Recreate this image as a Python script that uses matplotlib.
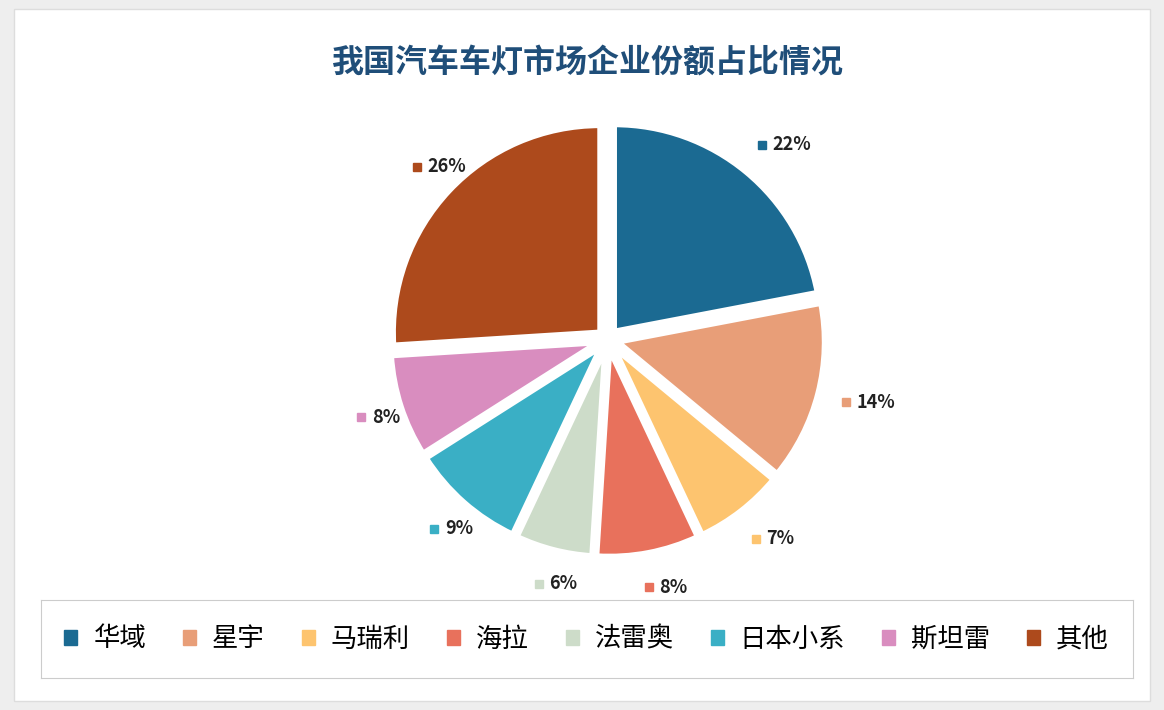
import numpy as np
import matplotlib.pyplot as plt
from matplotlib.patches import Rectangle

plt.rcParams['font.family'] = ['Noto Sans CJK SC', 'DejaVu Sans']

companies = ['华域', '星宇', '马瑞利', '海拉', '法雷奥', '日本小系', '斯坦雷', '其他']
shares = [22, 14, 7, 8, 6, 9, 8, 26]
colors = ['#1b6a92', '#e89e78', '#fdc46f', '#e8715c', '#cddcc9', '#3aafc5', '#d98dbf', '#ad4a1c']

fig = plt.figure(figsize=(11.64, 7.10), dpi=100)
fig.patch.set_facecolor('#eeeeee')
fig.add_artist(Rectangle((0.012, 0.012), 0.976, 0.976, transform=fig.transFigure,
                         facecolor='white', edgecolor='#dddddd', zorder=0))
fig.text(0.505, 0.912, '我国汽车车灯市场企业份额占比情况', ha='center', va='center',
         fontsize=23, fontweight='bold', color='#1f4e79')

w_ax = 0.48
h_ax = w_ax * 1164 / 710
ax = fig.add_axes((0.522 - w_ax / 2, 0.522 - h_ax / 2, w_ax, h_ax))
wedges, _ = ax.pie(shares, colors=colors, startangle=90, counterclock=False,
                   explode=[0.05] * len(shares),
                   wedgeprops=dict(edgecolor='white', linewidth=4))
ax.set_aspect('equal')
ax.set_xlim(-1.35, 1.35)
ax.set_ylim(-1.35, 1.35)
ax.axis('off')

for w, s, c in zip(wedges, shares, colors):
    ang = np.deg2rad((w.theta1 + w.theta2) / 2)
    x, y = 1.22 * np.cos(ang), 1.22 * np.sin(ang)
    ax.plot(x - 0.03, y, marker='s', ms=6, color=c, clip_on=False)
    ax.text(x + 0.02, y, f'{s}%', ha='left', va='center', fontsize=13,
            fontweight='bold', color='#222222')

lax = fig.add_axes((0.035, 0.045, 0.938, 0.11))
lax.set_xticks([]); lax.set_yticks([])
for sp in lax.spines.values():
    sp.set_color('#cccccc')
handles = [Rectangle((0, 0), 1, 1, color=c) for c in colors]
lax.legend(handles, companies, loc='center', ncol=8, frameon=False, fontsize=19,
           handlelength=0.5, handleheight=0.5, columnspacing=1.4, handletextpad=0.6)

fig.savefig('out.png', dpi=100, facecolor=fig.get_facecolor())
